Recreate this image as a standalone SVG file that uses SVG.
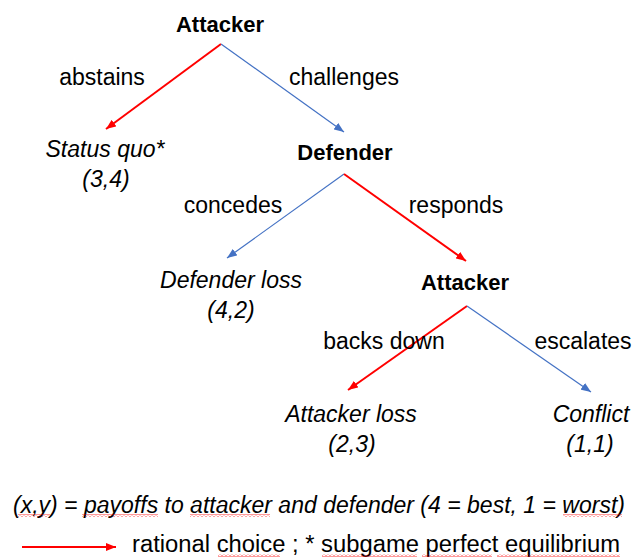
<svg xmlns="http://www.w3.org/2000/svg" width="632" height="558" viewBox="0 0 632 558">
  <style>
    text { font-family: "Liberation Sans", Arial, sans-serif; fill: #000; }
    .player { font-size: 22px; font-weight: bold; text-anchor: middle; }
    .move { font-size: 23px; text-anchor: middle; }
    .outcome { font-size: 23px; font-style: italic; text-anchor: middle; }
    .legend { font-size: 23px; }
    .rational { stroke: #ff0000; stroke-width: 2; fill: none; }
    .other { stroke: #4472c4; stroke-width: 1.2; fill: none; }
    .squiggle { fill: url(#squiggle); }
  </style>
  <defs>
    <marker id="arrow-red" viewBox="0 0 10 8" refX="10" refY="4" markerWidth="10" markerHeight="8" markerUnits="userSpaceOnUse" orient="auto">
      <path d="M0,0 L10,4 L0,8 z" fill="#ff0000"/>
    </marker>
    <marker id="arrow-blue" viewBox="0 0 10 8" refX="10" refY="4" markerWidth="10" markerHeight="8" markerUnits="userSpaceOnUse" orient="auto">
      <path d="M0,0 L10,4 L0,8 z" fill="#4472c4"/>
    </marker>
    <pattern id="squiggle" x="0" y="0" width="4" height="3" patternUnits="userSpaceOnUse">
      <path d="M0,2.5 L2,0.5 L4,2.5" fill="none" stroke="#ff0000" stroke-width="0.8"/>
    </pattern>
  </defs>

  <!-- decision nodes -->
  <g id="node-attacker-1"><text class="player" x="220" y="32">Attacker</text></g>
  <g id="node-defender"><text class="player" x="345" y="160">Defender</text></g>
  <g id="node-attacker-2"><text class="player" x="465" y="290">Attacker</text></g>

  <!-- terminal outcomes -->
  <g id="node-status-quo">
    <text class="outcome" x="105" y="157">Status quo*</text>
    <text class="outcome" x="106" y="187">(3,4)</text>
  </g>
  <g id="node-defender-loss">
    <text class="outcome" x="231" y="288">Defender loss</text>
    <text class="outcome" x="231" y="318">(4,2)</text>
  </g>
  <g id="node-attacker-loss">
    <text class="outcome" x="351" y="422">Attacker loss</text>
    <text class="outcome" x="352" y="452">(2,3)</text>
  </g>
  <g id="node-conflict">
    <text class="outcome" x="591" y="422">Conflict</text>
    <text class="outcome" x="590" y="452">(1,1)</text>
  </g>

  <!-- moves -->
  <g id="connectors">
    <line class="rational" x1="221" y1="44" x2="106" y2="129" marker-end="url(#arrow-red)"/>
    <line class="other" x1="221" y1="44" x2="344" y2="132" marker-end="url(#arrow-blue)"/>
    <line class="other" x1="344" y1="174" x2="227" y2="258" marker-end="url(#arrow-blue)"/>
    <line class="rational" x1="344" y1="174" x2="466" y2="261" marker-end="url(#arrow-red)"/>
    <line class="rational" x1="467" y1="306" x2="348" y2="390" marker-end="url(#arrow-red)"/>
    <line class="other" x1="467" y1="306" x2="591" y2="392" marker-end="url(#arrow-blue)"/>
  </g>
  <g id="move-labels">
    <text class="move" x="102" y="85">abstains</text>
    <text class="move" x="344" y="85">challenges</text>
    <text class="move" x="233" y="213">concedes</text>
    <text class="move" x="456" y="213">responds</text>
    <text class="move" x="384" y="349">backs down</text>
    <text class="move" x="583" y="349">escalates</text>
  </g>

  <!-- key -->
  <g id="legend">
    <text class="legend" x="13" y="513" font-style="italic" textLength="612" lengthAdjust="spacingAndGlyphs">(x,y) = payoffs to attacker and defender (4 = best, 1 = worst)</text>
    <line class="rational" x1="22" y1="547" x2="116" y2="547" stroke-width="1.5" marker-end="url(#arrow-red)"/>
    <text class="legend" x="132" y="552" textLength="488" lengthAdjust="spacingAndGlyphs">rational choice ; * subgame perfect equilibrium</text>
    <rect class="squiggle" x="18" y="514" width="32" height="3"/>
    <rect class="squiggle" x="82" y="514" width="76" height="3"/>
    <rect class="squiggle" x="190" y="514" width="80" height="3"/>
    <rect class="squiggle" x="563" y="514" width="59" height="3"/>
    <rect class="squiggle" x="218" y="554" width="62" height="3"/>
    <rect class="squiggle" x="322" y="554" width="95" height="3"/>
    <rect class="squiggle" x="422" y="554" width="70" height="3"/>
    <rect class="squiggle" x="497" y="554" width="123" height="3"/>
  </g>
</svg>
